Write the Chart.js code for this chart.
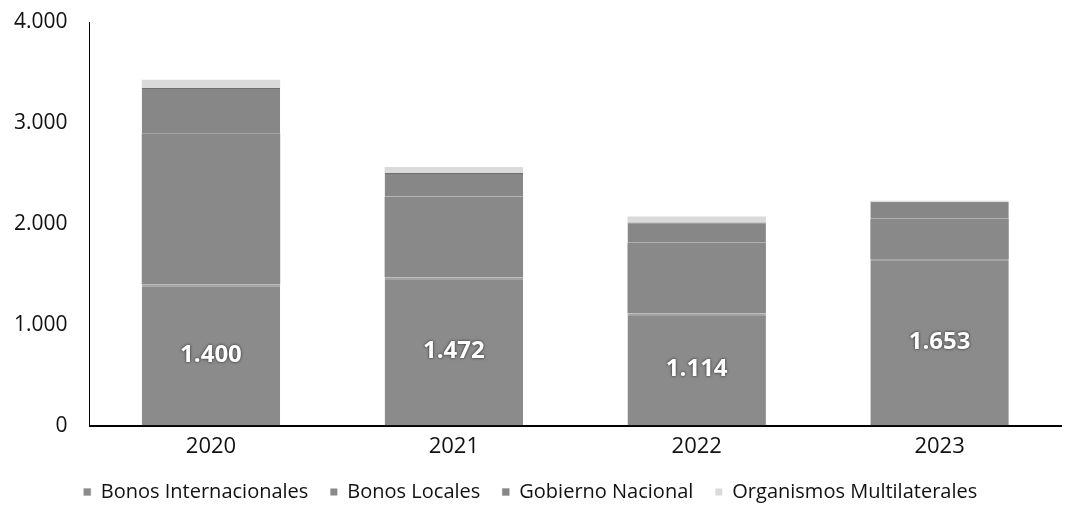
<!DOCTYPE html>
<html>
<head>
<meta charset="utf-8">
<script src="https://cdn.jsdelivr.net/npm/chart.js@4/dist/chart.umd.min.js"></script>
<style>
  html, body { margin: 0; padding: 0; background: #fff; }
  #wrap { width: 1065px; height: 512px; position: relative; }
</style>
</head>
<body>
<div id="wrap"><canvas id="chartDeuda"></canvas></div>
<script>
const years = ['2020', '2021', '2022', '2023'];
const bonosInternacionales = [1400, 1472, 1114, 1653];
const bonosLocales = [1500, 800, 700, 400];
const gobiernoNacional = [450, 233, 200, 167];
const organismosMultilaterales = [80, 60, 60, 10];
const yTicks = [0, 1000, 2000, 3000, 4000];

const fmt = v => String(v).replace(/\B(?=(\d{3})+(?!\d))/g, '.');
const font = "'Open Sans', 'Noto Sans', sans-serif";

// white labels centred in the bottom segment
const segmentLabels = {
  id: 'segmentLabels',
  afterDatasetsDraw(chart) {
    const ctx = chart.ctx;
    const meta = chart.getDatasetMeta(0);
    ctx.save();
    ctx.font = `bold 24px ${font}`;
    ctx.textAlign = 'center';
    ctx.textBaseline = 'middle';
    ctx.shadowColor = 'rgba(0,0,0,0.75)';
    ctx.shadowBlur = 3;
    ctx.fillStyle = '#fff';
    meta.data.forEach((bar, i) => {
      const mid = (bar.y + bar.base) / 2;
      ctx.fillText(fmt(bonosInternacionales[i]), bar.x, mid);
    });
    ctx.restore();
  }
};

const common = { barPercentage: 0.57, categoryPercentage: 1, borderSkipped: false };

new Chart(document.getElementById('chartDeuda'), {
  type: 'bar',
  data: {
    labels: years,
    datasets: [
      { ...common, label: 'Bonos Internacionales', data: bonosInternacionales, backgroundColor: '#8b8b8b',
        borderColor: '#a4a4a4', borderWidth: { top: 2, left: 0, right: 0, bottom: 0 } },
      { ...common, label: 'Bonos Locales', data: bonosLocales, backgroundColor: '#898989', borderWidth: 0 },
      { ...common, label: 'Gobierno Nacional', data: gobiernoNacional, backgroundColor: '#878787',
        borderColor: '#6e6e6e', borderWidth: { top: 1, left: 0, right: 0, bottom: 0 } },
      { ...common, label: 'Organismos Multilaterales', data: organismosMultilaterales, backgroundColor: '#dadada', borderWidth: 0 }
    ]
  },
  options: {
    responsive: true,
    maintainAspectRatio: false,
    animation: false,
    layout: { padding: { top: 0, right: 4, left: 0, bottom: 0 } },
    scales: {
      x: {
        stacked: true,
        grid: { display: false },
        border: { color: '#000', width: 2 },
        ticks: { color: '#111', font: { family: font, size: 22 }, padding: 0 }
      },
      y: {
        stacked: true,
        min: 0,
        max: 4000,
        afterBuildTicks: axis => { axis.ticks = yTicks.map(v => ({ value: v })); },
        grid: { display: false },
        border: { color: '#000', width: 1 },
        ticks: { color: '#111', font: { family: font, size: 21, lineHeight: 0.8 }, padding: 14, callback: v => fmt(v) }
      }
    },
    plugins: {
      legend: {
        position: 'bottom',
        labels: { color: '#111', font: { family: font, size: 20 }, boxWidth: 7, boxHeight: 7, padding: 22 }
      },
      tooltip: { enabled: false }
    }
  },
  plugins: [segmentLabels]
});
</script>
</body>
</html>
